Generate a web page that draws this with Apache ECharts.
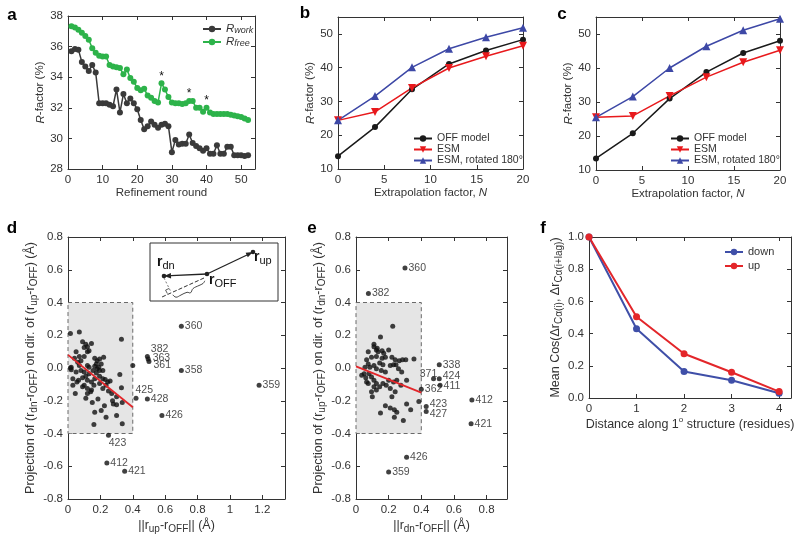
<!DOCTYPE html>
<html><head><meta charset="utf-8">
<script src="https://cdn.jsdelivr.net/npm/echarts@6/dist/echarts.min.js"></script>
<style>html,body{margin:0;padding:0;background:#fff}#c{width:800px;height:542px}</style>
</head><body><div id="c"></div>
<script>
// ---------- DATA ----------
const rounds = Array.from({length:52},(_,i)=>i+1);
const rWork = [35.7,35.85,35.8,35.0,34.7,34.4,34.8,34.3,32.3,32.3,32.3,32.2,32.1,33.2,31.7,32.9,32.3,32.6,32.3,31.9,31.2,30.6,30.8,31.1,30.9,30.7,30.9,30.95,30.8,29.1,29.9,29.6,29.65,29.65,30.25,29.7,29.5,29.35,29.2,29.35,29.0,29.0,29.55,29.0,29.0,29.45,29.45,28.9,28.9,28.9,28.85,28.9];
const rFree = [37.33,37.25,37.1,36.9,36.7,36.45,35.9,35.6,35.4,35.35,35.35,34.8,34.7,34.65,34.6,34.2,34.5,33.95,33.7,33.3,33.15,33.25,32.8,32.65,32.45,32.35,33.6,33.2,32.7,32.35,32.3,32.3,32.25,32.3,32.45,32.45,32.0,32.0,31.75,32.0,31.7,31.6,31.6,31.6,31.6,31.6,31.55,31.5,31.45,31.4,31.3,31.2];
const starRounds = [27,35,40];

const extrapN = [0,4,8,12,16,20];
const bOff = [13.8,22.4,33.6,41.1,45.1,48.3];
const bEsm = [24.4,26.9,34.0,39.9,43.4,46.5];
const bRot = [24.4,31.6,40.1,45.6,49.0,51.8];
const cOff = [13.4,20.8,31.0,38.8,44.4,48.0];
const cEsm = [25.5,25.9,31.8,37.3,41.7,45.2];
const cRot = [25.5,31.6,40.0,46.4,51.1,54.5];

const lagDist = [0,1,2,3,4];
const fDown = [1.0,0.43,0.165,0.11,0.03];
const fUp = [1.0,0.505,0.275,0.16,0.04];

// panel d
const dInX = [0.015,0.07,0.05,0.09,0.11,0.10,0.12,0.13,0.145,0.10,0.07,0.08,0.06,0.02,0.02,0.07,0.165,0.18,0.195,0.22,0.165,0.18,0.195,0.12,0.13,0.155,0.175,0.195,0.215,0.23,0.245,0.13,0.11,0.09,0.065,0.03,0.045,0.10,0.12,0.12,0.11,0.14,0.16,0.195,0.185,0.15,0.165,0.16,0.235,0.225,0.205,0.275,0.28,0.30,0.30,0.30,0.27,0.32,0.33,0.335,0.335,0.33,0.40,0.03,0.055,0.175,0.19,0.205,0.215,0.08,0.05,0.10,0.12,0.145,0.165,0.09,0.145,0.215,0.235,0.25,0.26,0.12,0.015,0.04];
const dInY = [0.21,0.22,0.10,0.16,0.145,0.125,0.10,0.105,0.15,0.07,0.07,0.045,0.035,0.005,-0.01,0.015,0.06,0.045,0.055,0.065,0.01,-0.005,-0.015,0.015,0.005,-0.015,-0.03,-0.05,-0.065,-0.07,-0.085,-0.035,-0.05,-0.06,-0.075,-0.065,-0.155,-0.105,-0.125,-0.155,-0.185,-0.145,-0.105,-0.095,-0.19,-0.21,-0.27,-0.345,-0.30,-0.23,-0.26,-0.20,-0.22,-0.225,-0.175,-0.29,-0.155,-0.04,-0.12,-0.21,-0.34,0.175,0.015,-0.105,-0.085,0.025,0.005,0.025,-0.015,-0.015,-0.025,-0.025,-0.075,-0.085,-0.065,-0.115,-0.135,-0.125,-0.105,-0.14,-0.08,0.13,0.0,0.06];
const dOutId = ['360','382','363','361','358','359','425','428','426','423','412','421'];
const dOutX = [0.70,0.49,0.495,0.50,0.70,1.18,0.42,0.49,0.58,0.25,0.24,0.35];
const dOutY = [0.255,0.07,0.055,0.04,-0.015,-0.105,-0.185,-0.19,-0.29,-0.41,-0.58,-0.63];
const dFitX = [0,0.4], dFitY = [0.08,-0.24];

// panel e
const eInX = [0.075,0.11,0.11,0.125,0.135,0.13,0.16,0.17,0.20,0.18,0.16,0.125,0.095,0.065,0.075,0.055,0.085,0.11,0.145,0.165,0.125,0.155,0.18,0.21,0.23,0.245,0.265,0.285,0.305,0.26,0.28,0.22,0.24,0.05,0.065,0.075,0.095,0.11,0.125,0.11,0.095,0.10,0.125,0.145,0.165,0.185,0.20,0.23,0.25,0.275,0.31,0.21,0.24,0.22,0.18,0.21,0.235,0.25,0.15,0.235,0.29,0.31,0.335,0.035,0.06,0.08,0.385,0.355,0.225,0.15];
const eInY = [0.10,0.145,0.13,0.11,0.10,0.12,0.105,0.09,0.11,0.065,0.06,0.07,0.065,0.05,0.025,0.005,0.005,0.015,0.03,0.02,-0.005,-0.015,-0.025,0.015,0.02,0.02,0.045,0.05,0.05,-0.005,-0.025,0.065,0.05,-0.035,-0.085,-0.095,-0.055,-0.075,-0.095,-0.115,-0.145,-0.175,-0.135,-0.115,-0.095,-0.105,-0.075,-0.085,-0.075,-0.105,-0.075,-0.125,-0.145,-0.175,-0.23,-0.245,-0.255,-0.27,-0.275,-0.30,-0.32,-0.22,-0.255,-0.045,-0.06,-0.035,-0.205,0.055,0.255,0.19];
const eOutId = ['360','382','338','371','424','411','362','412','423','427','421','426','359'];
const eOutX = [0.30,0.076,0.51,0.475,0.51,0.515,0.40,0.71,0.43,0.43,0.705,0.31,0.20];
const eOutY = [0.61,0.455,0.02,-0.065,-0.065,-0.105,-0.13,-0.195,-0.235,-0.265,-0.34,-0.545,-0.635];
const eFitX = [0,0.4], eFitY = [0.01,-0.15];

const boxX = [0,0.4], boxY = [-0.4,0.4];

// ---------- STYLE ----------
const FONT = "'Liberation Sans', Arial, Helvetica, sans-serif";
const TXT = '#333';
const RICH = {
  n:{fontSize:11.5,lineHeight:16,color:TXT,fontFamily:FONT},
  i:{fontSize:11.5,lineHeight:16,color:TXT,fontFamily:FONT,fontStyle:'italic'},
  s:{fontSize:8.5,color:TXT,fontFamily:FONT,verticalAlign:'bottom'},
  p:{fontSize:8,color:TXT,fontFamily:FONT,verticalAlign:'top'},
  N:{fontSize:12.5,lineHeight:17,color:TXT,fontFamily:FONT},
  S:{fontSize:10,color:TXT,fontFamily:FONT,verticalAlign:'bottom'}
};
const near = (v,iv)=>Math.abs(v/iv-Math.round(v/iv))<1e-6;
const fmtInt = v=>String(Math.round(v));
const fmtD = v=>String(+v.toFixed(2));
const fmt1 = v=>Math.abs(v)<1e-9?'0.0':v.toFixed(1);

const xAxes=[], yAxes=[], grids=[];
function panel(g, xc, yc){
  const gi = grids.length;
  grids.push(Object.assign({show:false, outerBoundsMode:'none', containLabel:false}, g));
  const line = {show:true,onZero:false,lineStyle:{color:'#333',width:1}};
  const tick = {show:true,inside:true,length:4,lineStyle:{color:'#333',width:1}};
  const mk = (c, pos, primary)=>({
    gridIndex:gi, type:'value', position:pos, min:c.min, max:c.max, interval:c.iv,
    axisLine:line, axisTick:tick, splitLine:{show:false},
    axisLabel: primary ? {show:true,color:TXT,fontSize:11.5,fontFamily:FONT,margin:c.margin||5,
      formatter:v=>near(v-c.min,c.iv)?c.fmt(v):''} : {show:false},
    name: primary ? c.name : '', nameLocation:'middle', nameGap:c.gap,
    nameTextStyle:{color:TXT,fontSize:11.5,fontFamily:FONT,rich:RICH}
  });
  xAxes.push(mk(xc,'bottom',true), mk(xc,'top',false));
  yAxes.push(mk(yc,'left',true), mk(yc,'right',false));
  return {x:xAxes.length-2, y:yAxes.length-2};
}

const A = panel({left:68,top:16,width:187,height:153},
  {min:0,max:54,iv:10,fmt:fmtInt,name:'{n|Refinement round}',gap:13,margin:5},
  {min:28,max:38,iv:2,fmt:fmtInt,name:'{i|R}{n|-factor (%)}',gap:18});
const B = panel({left:338,top:17,width:185,height:152},
  {min:0,max:20,iv:5,fmt:fmtInt,name:'{n|Extrapolation factor, }{i|N}',gap:15},
  {min:10,max:55,iv:10,fmt:fmtInt,name:'{i|R}{n|-factor (%)}',gap:16});
const C = panel({left:596,top:17,width:184,height:153},
  {min:0,max:20,iv:5,fmt:fmtInt,name:'{n|Extrapolation factor, }{i|N}',gap:14},
  {min:10,max:55,iv:10,fmt:fmtInt,name:'{i|R}{n|-factor (%)}',gap:14});
const D = panel({left:68,top:237,width:217,height:262},
  {min:0,max:1.34,iv:0.2,fmt:fmtD,name:'{N|||r}{S|up}{N|-r}{S|OFF}{N||| (Å)}',gap:18,margin:5},
  {min:-0.8,max:0.8,iv:0.2,fmt:fmt1,name:'{N|Projection of (r}{S|dn}{N|-r}{S|OFF}{N|) on dir. of (r}{S|up}{N|-r}{S|OFF}{N|) (Å)}',gap:29});
const E = panel({left:356,top:237,width:151,height:262},
  {min:0,max:0.925,iv:0.2,fmt:fmtD,name:'{N|||r}{S|dn}{N|-r}{S|OFF}{N||| (Å)}',gap:18,margin:5},
  {min:-0.8,max:0.8,iv:0.2,fmt:fmt1,name:'{N|Projection of (r}{S|up}{N|-r}{S|OFF}{N|) on dir. of (r}{S|dn}{N|-r}{S|OFF}{N|) (Å)}',gap:24});
const F = panel({left:589,top:237,width:202,height:161},
  {min:0,max:4.25,iv:1,fmt:fmtInt,name:'{N|Distance along 1}{p|o}{N| structure (residues)}',gap:14},
  {min:0,max:1.0,iv:0.2,fmt:fmt1,name:'{N|Mean Cos(Δr}{S|Cα(i)}{N|, Δr}{S|Cα(i+lag)}{N|)}',gap:25});

const zip = (xs,ys)=>xs.map((x,i)=>[x,ys[i]]);
const series = [];
function lineS(P, name, xs, ys, color, symbol, size, extra){
  series.push(Object.assign({type:'line', name, xAxisIndex:P.x, yAxisIndex:P.y, data:zip(xs,ys),
    symbol, symbolSize:size, showSymbol:true, clip:false, animation:false,
    lineStyle:{color,width:1.5}, itemStyle:{color}}, extra||{}));
}
// a
lineS(A,'Rwork',rounds,rWork,'#3a3a3a','circle',6);
lineS(A,'Rfree',rounds,rFree,'#2db34a','circle',6,{
  markPoint:{symbol:'circle',symbolSize:1,itemStyle:{color:'rgba(0,0,0,0)'},
    label:{show:true,formatter:'*',position:'inside',offset:[0,-7],color:'#111',fontSize:12,fontFamily:FONT},
    data:starRounds.map(r=>({coord:[r,rFree[r-1]]}))}
});
// b, c
const RED='#e8191c', BLUE='#3d48a6', BLK='#1a1a1a';
lineS(B,'OFF model',extrapN,bOff,BLK,'circle',6);
lineS(B,'ESM',extrapN,bEsm,RED,'triangle',8,{symbolRotate:180});
lineS(B,'ESM, rotated 180°',extrapN,bRot,BLUE,'triangle',8);
lineS(C,'OFF model',extrapN,cOff,BLK,'circle',6);
lineS(C,'ESM',extrapN,cEsm,RED,'triangle',8,{symbolRotate:180});
lineS(C,'ESM, rotated 180°',extrapN,cRot,BLUE,'triangle',8);
// f
lineS(F,'down',lagDist,fDown,'#3f4fa8','circle',7,{lineStyle:{color:'#3f4fa8',width:2}});
lineS(F,'up',lagDist,fUp,'#e3262a','circle',7,{lineStyle:{color:'#e3262a',width:2}});

// d, e scatter
const labelAdj = {
  d:{'382':{offset:[0,-7]},'363':{offset:[1,-1]},'361':{offset:[1,4]},'425':{offset:[-4,-8]},
     '423':{position:'bottom',offset:[9,-1]}},
  e:{'371':{position:'top',offset:[-5,4]},'424':{offset:[0,-3]},'411':{offset:[0,1]},
     '427':{offset:[0,3]},'423':{offset:[0,-2]}}
};
function scatterPanel(P, key, inX, inY, outId, outX, outY, fitX, fitY){
  series.push({type:'scatter', xAxisIndex:P.x, yAxisIndex:P.y, data:zip(inX,inY), symbolSize:5,
    itemStyle:{color:'#111'}, animation:false, z:3,
    markArea:{silent:true, itemStyle:{color:'#e5e5e5',borderColor:'#6a6a6a',borderWidth:1,borderType:[4,3]},
      data:[[{coord:[boxX[0],boxY[1]]},{coord:[boxX[1],boxY[0]]}]]}});
  series.push({type:'scatter', xAxisIndex:P.x, yAxisIndex:P.y, symbolSize:5, animation:false, clip:false,
    itemStyle:{color:'#111'}, z:4,
    label:{show:true,position:'right',distance:1,formatter:'{b}',color:'#222',fontSize:10.5,fontFamily:FONT},
    data:outId.map((id,i)=>Object.assign({name:id,value:[outX[i],outY[i]]},
      labelAdj[key][id]?{label:labelAdj[key][id]}:{}))});
  series.push({type:'line', xAxisIndex:P.x, yAxisIndex:P.y, data:zip(fitX,fitY), symbol:'none',
    lineStyle:{color:'#e3262a',width:1.8}, animation:false, z:5});
}
scatterPanel(D,'d',dInX,dInY,dOutId,dOutX,dOutY,dFitX,dFitY);
scatterPanel(E,'e',eInX,eInY,eOutId,eOutX,eOutY,eFitX,eFitY);

const legBase = {orient:'vertical', itemWidth:18, itemHeight:8, itemGap:0, padding:0,
  textStyle:{color:TXT,fontSize:10.5,fontFamily:FONT,lineHeight:10}};
const legends = [
  Object.assign({}, legBase, {data:['Rwork','Rfree'], left:202, top:23, itemGap:1,
    formatter:n=>n==='Rwork'?'{i|R}{s|work}':'{i|R}{s|free}',
    textStyle:{color:TXT,fontFamily:FONT,rich:{
      i:{fontSize:11.5,fontStyle:'italic',lineHeight:12,color:TXT,fontFamily:FONT},
      s:{fontSize:9,fontStyle:'italic',color:TXT,fontFamily:FONT,verticalAlign:'bottom'}}}}),
  Object.assign({}, legBase, {data:['OFF model','ESM','ESM, rotated 180°'], left:413, top:133}),
  Object.assign({}, legBase, {data:['OFF model','ESM','ESM, rotated 180°'], left:670, top:133}),
  Object.assign({}, legBase, {data:['down','up'], left:724, top:246, itemGap:2,
    textStyle:{color:TXT,fontSize:11,fontFamily:FONT,lineHeight:12}})
];

// panel letters + inset schematic (illustration, not data)
const letter = (t,x,y)=>({type:'text', x, y, z:200, style:{text:t, fill:'#000', font:"bold 17px "+FONT, align:'center', verticalAlign:'middle'}});
const insetRich = {r:{fontSize:14,fontWeight:'bold',fill:'#111',color:'#111',fontFamily:FONT,lineHeight:18},
  s:{fontSize:11,fill:'#111',color:'#111',fontFamily:FONT,verticalAlign:'bottom'}};
const G = [
  letter('a',12,15), letter('b',305,13), letter('c',562,14),
  letter('d',12,228), letter('e',312,228), letter('f',543,228),
  {type:'rect', z:100, shape:{x:150,y:243,width:128,height:58}, style:{fill:'#fff',stroke:'#333',lineWidth:1}},
  {type:'line', z:101, shape:{x1:204,y1:278,x2:162,y2:297}, style:{stroke:'#333',lineWidth:1,lineDash:[4,2]}},
  {type:'line', z:101, shape:{x1:164,y1:278,x2:171,y2:292}, style:{stroke:'#555',lineWidth:0.8,lineDash:[2,2]}},
  {type:'polyline', z:101, shape:{points:[[167.4,293.6],[165.6,290.1],[169.2,288.4]]}, style:{stroke:'#333',lineWidth:0.8,fill:null}},
  {type:'polyline', z:101, shape:{smooth:0.4, points:[[172.8,294.8],[176,297.2],[181,295],[187,292.3],[190.5,292.8],[193,288.6],[199,285.5],[203,283.5],[204.8,280.8]]}, style:{stroke:'#333',lineWidth:0.9,fill:null}},
  {type:'line', z:102, shape:{x1:207,y1:274,x2:247,y2:255}, style:{stroke:'#222',lineWidth:1.3}},
  {type:'polygon', z:102, shape:{points:[[253,252],[245.6,252.7],[247.8,257.3]]}, style:{fill:'#222'}},
  {type:'line', z:102, shape:{x1:207,y1:274,x2:171,y2:275.6}, style:{stroke:'#222',lineWidth:1.3}},
  {type:'polygon', z:102, shape:{points:[[164,276],[171.1,278.4],[170.9,273.0]]}, style:{fill:'#222'}},
  {type:'circle', z:103, shape:{cx:207,cy:274,r:2.3}, style:{fill:'#222'}},
  {type:'circle', z:103, shape:{cx:253,cy:252,r:2.3}, style:{fill:'#222'}},
  {type:'circle', z:103, shape:{cx:164,cy:276,r:2.3}, style:{fill:'#222'}},
  {type:'text', z:103, x:157, y:253, style:{text:'{r|r}{s|dn}', rich:insetRich, fill:'#111', verticalAlign:'top'}},
  {type:'text', z:103, x:209, y:271, style:{text:'{r|r}{s|OFF}', rich:insetRich, fill:'#111', verticalAlign:'top'}},
  {type:'text', z:103, x:254, y:248, style:{text:'{r|r}{s|up}', rich:insetRich, fill:'#111', verticalAlign:'top'}}
];

const chart = echarts.init(document.getElementById('c'), null, {renderer:'canvas'});
chart.setOption({
  animation:false, backgroundColor:'#fff',
  textStyle:{fontFamily:FONT},
  grid:grids, xAxis:xAxes, yAxis:yAxes, series, legend:legends, graphic:G
});
</script></body></html>
